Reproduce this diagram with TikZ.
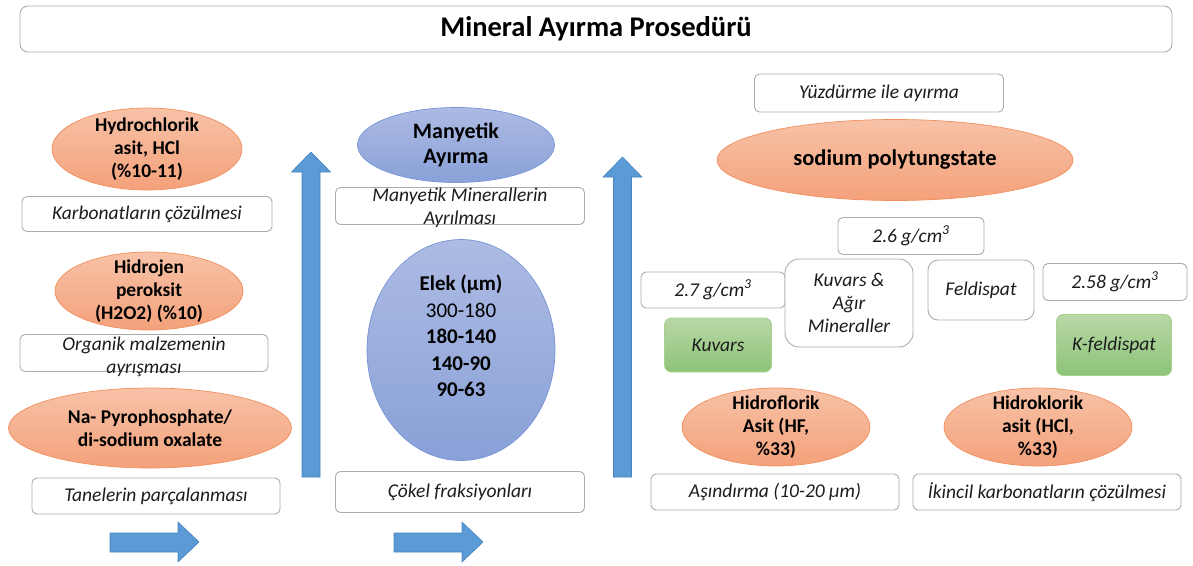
\documentclass[tikz,border=0pt]{standalone}
\usepackage{fontspec}
\setmainfont{Carlito}
\definecolor{acidtop}{RGB}{247,194,167}
\definecolor{acidbot}{RGB}{244,161,122}
\definecolor{acidline}{RGB}{241,143,95}
\definecolor{magtop}{RGB}{173,187,227}
\definecolor{magbot}{RGB}{137,161,216}
\definecolor{magline}{RGB}{118,148,214}
\definecolor{mintop}{RGB}{184,216,166}
\definecolor{minbot}{RGB}{141,195,120}
\definecolor{minline}{RGB}{168,208,142}
\definecolor{arrowblue}{RGB}{91,155,213}
\definecolor{arrowline}{RGB}{72,132,192}
\definecolor{notegray}{RGB}{172,172,172}
\definecolor{inkgray}{RGB}{28,28,28}
\usetikzlibrary{shapes.geometric}

\tikzset{
  stepnote/.style={draw=notegray, line width=0.9pt, rounded corners=5pt, fill=white, inner sep=0pt,
    text=inkgray, align=center, font=\fontsize{19.5}{23}\selectfont\itshape},
  mineral/.style={draw=minline, line width=0.9pt, rounded corners=7pt, top color=mintop, bottom color=minbot,
    inner sep=0pt, text=inkgray, font=\fontsize{19.5}{23}\selectfont\itshape},
  acid/.style={ellipse, draw=acidline, line width=0.7pt, top color=acidtop, bottom color=acidbot, inner sep=0pt},
  magnet/.style={ellipse, draw=magline, line width=0.7pt, top color=magtop, bottom color=magbot, inner sep=0pt},
  elltext/.style={align=center, text=black, font=\fontsize{19.5}{23}\selectfont\bfseries},
  notetext/.style={align=center, text=inkgray, font=\fontsize{19.5}{23}\selectfont\itshape},
  bigarrow/.style={fill=arrowblue, draw=arrowline, line width=0.6pt}
}

\begin{document}
\begin{tikzpicture}[x=1pt, y=-1pt]
\useasboundingbox (0,0) rectangle (1193,565);

\node[stepnote, minimum width=1152, minimum height=46, rounded corners=8pt, text=black,
  font=\fontsize{28.5}{32}\selectfont\bfseries] (title) at (596,29) {Mineral Ayırma Prosedürü};

\node[acid, minimum width=190, minimum height=82,
  label={[elltext]center:{Hydrochlorik\\asit, HCl\\(\%10-11)}}] (hclacid) at (147,149) {};
\node[stepnote, minimum width=250, minimum height=35] (karbonat) at (147,214) {Karbonatların çözülmesi};
\node[acid, minimum width=188, minimum height=78,
  label={[elltext]center:{Hidrojen\\peroksit\\(H2O2) (\%10)}}] (peroksit) at (149,291) {};
\node[stepnote, minimum width=248, minimum height=37,
  label={[notetext, yshift=-4]center:{Organik malzemenin\\ayrışması}}] (organik) at (144,353) {};
\node[acid, minimum width=283, minimum height=80,
  label={[elltext]center:{Na- Pyrophosphate/\\di-sodium oxalate}}] (oxalat) at (150,428) {};
\node[stepnote, minimum width=248, minimum height=36] (tane) at (156,496) {Tanelerin parçalanması};

\node[magnet, minimum width=197, minimum height=75,
  label={[elltext, font=\fontsize{22}{25}\selectfont\bfseries]center:{Manyetik\\Ayırma}}] (manyetik) at (456,145) {};
\node[stepnote, minimum width=249, minimum height=37,
  label={[notetext, yshift=-2]center:{Manyetik Minerallerin\\Ayrılması}}] (ayrilma) at (460,206) {};
\node[magnet, minimum width=188, minimum height=221,
  label={[elltext, font=\fontsize{21}{26.5}\selectfont, yshift=14]center:{\textbf{Elek (µm)}\\300-180\\\textbf{180-140}\\\textbf{140-90}\\\textbf{90-63}}}] (elek) at (461,350) {};
\node[stepnote, minimum width=249, minimum height=41] (cokel) at (460,492) {Çökel fraksiyonları};

\node[stepnote, minimum width=249, minimum height=38] (yuzdurme) at (879,93) {Yüzdürme ile ayırma};
\node[acid, minimum width=356, minimum height=81,
  label={[elltext, font=\fontsize{22.5}{26}\selectfont\bfseries]center:{sodium polytungstate}}] (spt) at (895,160) {};
\node[stepnote, minimum width=146, minimum height=37] (yog26) at (911,236) {2.6 g/cm\textsuperscript{3}};
\node[stepnote, minimum width=144, minimum height=36] (yog27) at (713,290) {2.7 g/cm\textsuperscript{3}};
\node[stepnote, minimum width=128, minimum height=88, rounded corners=14pt] (agir) at (849,303) {Kuvars \&\\Ağır\\Mineraller};
\node[stepnote, minimum width=106, minimum height=60, rounded corners=10pt] (feldispat) at (981,290) {Feldispat};
\node[stepnote, minimum width=144, minimum height=37] (yog258) at (1115,282) {2.58 g/cm\textsuperscript{3}};
\node[mineral, minimum width=107, minimum height=54] (kuvars) at (718,345) {Kuvars};
\node[mineral, minimum width=115, minimum height=61] (kfeld) at (1114,345) {K-feldispat};
\node[acid, minimum width=188, minimum height=78,
  label={[elltext]center:{Hidroflorik\\Asit (HF,\\\%33)}}] (hfacid) at (776,427) {};
\node[acid, minimum width=188, minimum height=78,
  label={[elltext]center:{Hidroklorik\\asit (HCl,\\\%33)}}] (hclacid2) at (1038,427) {};
\node[stepnote, minimum width=248, minimum height=36] (asindirma) at (775,492) {Aşındırma (10-20 µm)};
\node[stepnote, minimum width=268, minimum height=36] (ikincil) at (1047,492) {İkincil karbonatların çözülmesi};

\foreach \ux/\ut in {311/152, 622.5/157}
  \filldraw[bigarrow] (\ux-9,477) -- (\ux-9,\ut+20) -- (\ux-19.5,\ut+20) -- (\ux,\ut)
    -- (\ux+19.5,\ut+20) -- (\ux+9,\ut+20) -- (\ux+9,477) -- cycle;
\foreach \rx in {110,394}
  \filldraw[bigarrow] (\rx,533) -- (\rx+68,533) -- (\rx+68,522) -- (\rx+89,542)
    -- (\rx+68,562) -- (\rx+68,552) -- (\rx,552) -- cycle;
\end{tikzpicture}
\end{document}
